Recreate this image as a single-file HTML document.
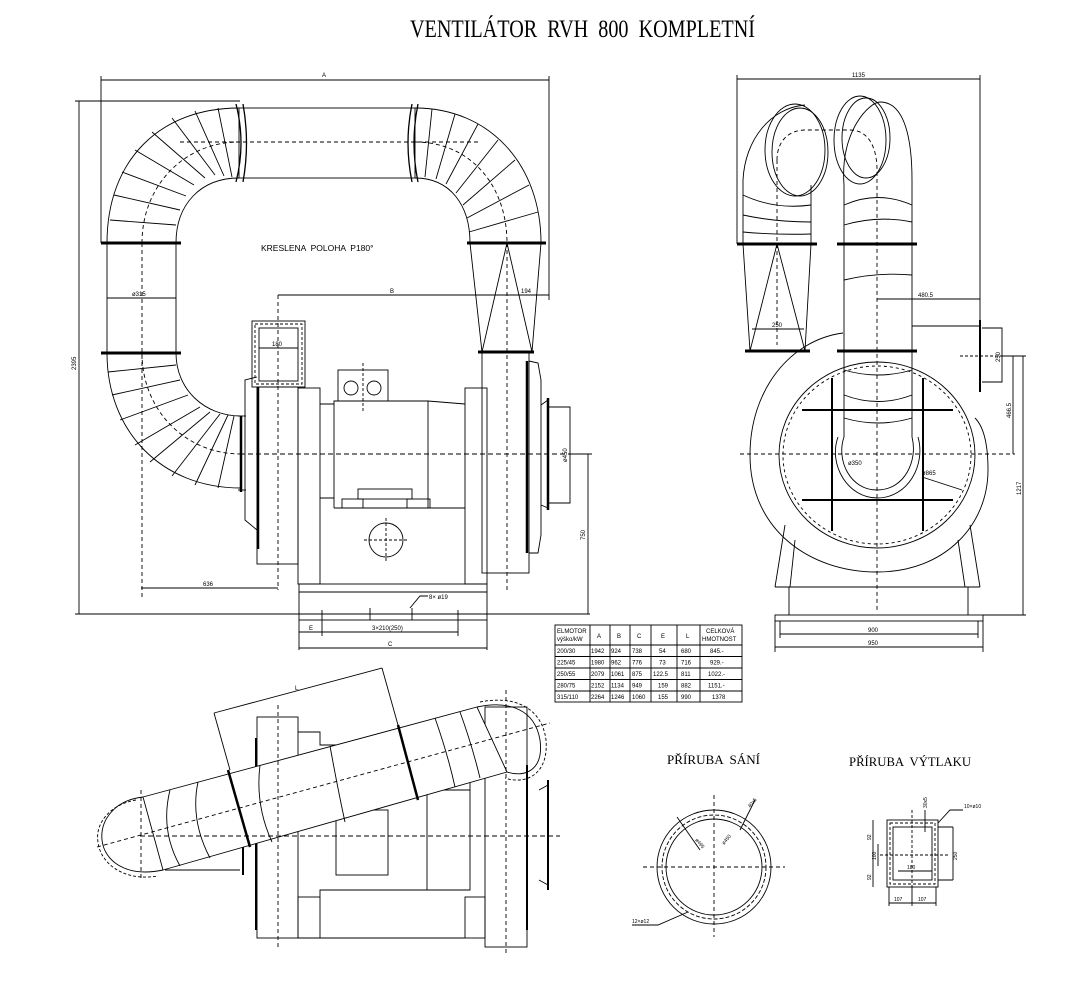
<!DOCTYPE html>
<html><head><meta charset="utf-8"><style>
html,body{margin:0;padding:0;background:#fff}
svg{display:block}
text{font-family:"Liberation Sans",sans-serif;fill:#000}
.pre{white-space:pre}
</style></head><body>
<svg width="1075" height="1008" viewBox="0 0 1075 1008" xmlns="http://www.w3.org/2000/svg">
<g fill="none" stroke="#000" stroke-width="0.9">
<!-- TITLE -->
<text class="pre" x="410" y="37" font-size="25" textLength="345" lengthAdjust="spacingAndGlyphs" stroke="none" style="font-family:'Liberation Serif',serif">VENTILÁTOR  RVH  800  KOMPLETNÍ</text>

<!-- ===== FRONT VIEW ===== -->
<line x1="101" y1="80" x2="549" y2="80"/>
<line x1="101" y1="76" x2="101" y2="243"/><line x1="549" y1="76" x2="549" y2="300"/>
<text x="322" y="77" font-size="6" stroke="none">A</text>
<line x1="79" y1="101" x2="79" y2="614"/>
<line x1="75" y1="101" x2="240" y2="101"/>
<line x1="75" y1="614" x2="590" y2="614"/>
<text x="76" y="370" font-size="6" stroke="none" transform="rotate(-90 76 370)">2395</text>
<rect x="239" y="108" width="176" height="70"/>
<path d="M236 104 Q246 143 236 182 M243 104 Q250 143 243 182 M412 104 Q404 143 412 182 M418 104 Q410 143 418 182" stroke-width="1.3"/>
<line x1="180" y1="142" x2="480" y2="142" stroke-dasharray="4 3"/>
<path d="M107 243 C107 160 160 108 239 108"/>
<path d="M176 243 C176 205 200 178 239 178"/>
<path d="M142 243 C142 185 185 142 239 142" stroke-dasharray="4 3"/>
<path d="M110 220 L176 225 M114 195 L180 210 M122 172 L186 196 M135 150 L194 185 M152 132 L205 178 M172 118 L215 175 M195 111 L224 176 M218 108 L232 177"/>
<line x1="107" y1="243" x2="107" y2="353"/><line x1="176" y1="243" x2="176" y2="353"/>
<line x1="142" y1="243" x2="142" y2="600" stroke-dasharray="4 3"/>
<line x1="101" y1="243" x2="181" y2="243" stroke-width="3"/>
<line x1="101" y1="353" x2="181" y2="353" stroke-width="3"/>
<line x1="107" y1="298" x2="176" y2="298"/>
<text x="132" y="296" font-size="6" stroke="none">ø315</text>
<path d="M107 353 C107 430 160 488 241 488"/>
<path d="M176 353 C176 390 205 416 241 416"/>
<path d="M142 353 C142 410 185 454 241 454" stroke-dasharray="4 3"/>
<path d="M108 372 L176 365 M112 395 L180 380 M120 420 L188 395 M135 445 L200 407 M150 462 L210 412 M172 476 L220 414 M195 485 L228 415 M218 488 L234 416"/>
<line x1="241" y1="416" x2="241" y2="492" stroke-width="2.5"/>
<line x1="238" y1="416" x2="246" y2="416"/><line x1="238" y1="490" x2="246" y2="490"/>
<path d="M257 377 L245 380 L245 520 L257 530"/>
<rect x="257" y="387" width="41" height="177"/>
<line x1="258" y1="387" x2="258" y2="549" stroke-width="2.5"/>
<rect x="252" y="321" width="53" height="66"/>
<rect x="259" y="328" width="39" height="53"/>
<rect x="255" y="324" width="47" height="60" stroke-dasharray="3 2"/>
<line x1="259" y1="348" x2="298" y2="348"/>
<text x="272" y="346" font-size="6" stroke="none">180</text>
<line x1="278" y1="295" x2="278" y2="590" stroke-dasharray="4 3"/>
<rect x="298" y="388" width="22" height="196"/>
<rect x="465" y="388" width="22" height="196"/>
<path d="M320 404 L334 404 L334 401 L428 401 L465 404 M320 498 L334 498 M334 401 L334 508 M428 401 L428 508 M334 508 L465 508"/>
<rect x="338" y="370" width="50" height="31"/>
<circle cx="351" cy="388" r="7"/><circle cx="374" cy="388" r="7"/>
<line x1="363" y1="363" x2="363" y2="412" stroke-dasharray="3 2"/>
<rect x="358" y="489" width="54" height="10"/>
<rect x="342" y="499" width="21" height="9"/><rect x="407" y="499" width="23" height="9"/>
<circle cx="386" cy="540" r="17"/>
<line x1="364" y1="540" x2="408" y2="540" stroke-dasharray="3 2"/><line x1="386" y1="518" x2="386" y2="562" stroke-dasharray="3 2"/>
<rect x="299" y="584" width="188" height="36"/>
<line x1="299" y1="592" x2="487" y2="592"/><line x1="299" y1="614" x2="487" y2="614"/>
<path d="M410 608 L420 596 L428 596"/>
<text x="429" y="599" font-size="6" stroke="none">8× ø19</text>
<line x1="240" y1="454" x2="575" y2="454" stroke-dasharray="5 3"/>
<path d="M415 108 C490 108 541 165 541 243"/>
<path d="M415 178 C450 178 470 205 470 243"/>
<path d="M415 142 C470 142 507 185 507 243" stroke-dasharray="4 3"/>
<path d="M432 109 L425 177 M455 114 L436 179 M478 124 L446 184 M498 140 L456 193 M515 160 L463 205 M529 185 L467 218 M538 212 L469 232"/>
<line x1="467" y1="243" x2="546" y2="243" stroke-width="3"/>
<path d="M470 243 L482 352 M541 243 L532 352 M507 243 L482 352 M507 243 L532 352"/>
<line x1="507" y1="243" x2="507" y2="590" stroke-dasharray="4 3"/>
<line x1="478" y1="352" x2="534" y2="352" stroke-width="3"/>
<rect x="482" y="352" width="47" height="221"/>
<line x1="527" y1="361" x2="527" y2="553" stroke-width="2.5"/>
<path d="M529 361 L538 363 L541 380 L541 535 L538 553 L529 553"/>
<line x1="548" y1="398" x2="548" y2="510" stroke-width="2.5"/>
<path d="M541 405 L548 400 M541 505 L548 508"/>
<path d="M548 407 L570 407 L570 503 L548 503"/>
<text x="567" y="462" font-size="6" stroke="none" transform="rotate(-90 567 462)">ø450</text>
<line x1="278" y1="295" x2="549" y2="295"/>
<text x="390" y="293" font-size="6" stroke="none">B</text>
<text x="521" y="293" font-size="6" stroke="none">194</text>
<line x1="141" y1="588" x2="278" y2="588"/>
<text x="203" y="586" font-size="6" stroke="none">636</text>
<line x1="588" y1="454" x2="588" y2="614"/><line x1="570" y1="454" x2="592" y2="454"/>
<text x="585" y="540" font-size="6" stroke="none" transform="rotate(-90 585 540)">750</text>
<path d="M299 620 L299 650 M487 620 L487 650 M322 610 L322 636 M458 610 L458 636 M370 608 L370 620 M412 608 L412 620"/>
<line x1="299" y1="632" x2="322" y2="632"/><line x1="322" y1="632" x2="458" y2="632"/>
<text x="309" y="630" font-size="6" stroke="none">E</text>
<text x="372" y="630" font-size="6" stroke="none">3×210(250)</text>
<line x1="299" y1="648" x2="487" y2="648"/>
<text x="388" y="646" font-size="6" stroke="none">C</text>
<text class="pre" x="261" y="251" font-size="8.5" stroke="none">KRESLENA  POLOHA  P180°</text>

<!-- ===== SIDE VIEW ===== -->
<line x1="737" y1="79" x2="980" y2="79"/>
<line x1="737" y1="75" x2="737" y2="244"/><line x1="980" y1="75" x2="980" y2="330"/>
<text x="852" y="77" font-size="6" stroke="none">1135</text>
<line x1="743" y1="180" x2="743" y2="244"/><line x1="811" y1="185" x2="811" y2="244"/>
<path d="M743 180 C745 140 770 108 805 105"/>
<ellipse cx="795" cy="150" rx="30" ry="46"/>
<ellipse cx="800" cy="152" rx="28" ry="44"/>
<path d="M743 195 Q775 210 811 205 M743 215 Q775 222 811 222 M743 232 Q775 235 811 234"/>
<line x1="777" y1="160" x2="777" y2="345" stroke-dasharray="4 3"/>
<path d="M777 160 C777 140 790 130 805 130 L850 130" stroke-dasharray="4 3"/>
<path d="M844 185 C840 130 870 102 880 102 C905 102 912 140 912 180"/>
<ellipse cx="860" cy="140" rx="26" ry="44"/>
<ellipse cx="866" cy="138" rx="24" ry="40"/>
<line x1="912" y1="180" x2="912" y2="437"/><line x1="844" y1="185" x2="844" y2="437"/>
<path d="M844 205 Q878 190 912 205 M844 225 Q878 215 912 222 M844 280 Q878 272 912 275 M844 370 Q878 380 912 370 M844 395 Q878 408 912 395 M844 418 Q878 428 912 418"/>
<path d="M850 130 C870 130 877 150 877 170 L877 610" stroke-dasharray="4 3"/>
<line x1="737" y1="244" x2="817" y2="244" stroke-width="3"/>
<line x1="837" y1="244" x2="917" y2="244" stroke-width="3"/>
<line x1="837" y1="351" x2="917" y2="351" stroke-width="3"/>
<path d="M743 244 L750 351 M811 244 L805 351 M777 244 L750 351 M777 244 L805 351"/>
<line x1="745" y1="351" x2="810" y2="351" stroke-width="3"/>
<line x1="752" y1="329" x2="804" y2="329"/>
<text x="772" y="327" font-size="6" stroke="none">250</text>
<path d="M843 333 C790 340 750 390 750 455 C750 530 810 572 877 572 C945 572 988 525 988 470 C988 440 982 425 975 418"/>
<ellipse cx="877" cy="455" rx="98" ry="93"/>
<ellipse cx="877" cy="455" rx="94" ry="89" stroke-dasharray="3 3"/>
<line x1="832" y1="378" x2="832" y2="531" stroke-width="2"/>
<line x1="923" y1="378" x2="923" y2="531" stroke-width="2"/>
<line x1="802" y1="410" x2="953" y2="410" stroke-width="2"/>
<line x1="802" y1="500" x2="953" y2="500" stroke-width="2"/>
<path d="M844 437 C836 460 850 490 877 490 C905 490 918 460 912 437"/>
<path d="M838 437 C828 465 848 498 877 498 C908 498 926 465 918 437"/>
<text x="848" y="465" font-size="6" stroke="none">ø350</text>
<text x="922" y="475" font-size="6" stroke="none">ø865</text>
<line x1="922" y1="477" x2="962" y2="490"/>
<line x1="740" y1="454" x2="1015" y2="454" stroke-dasharray="4 3"/>
<path d="M785 525 L775 587 M795 540 L790 587 M970 525 L980 587 M958 540 L965 587"/>
<line x1="775" y1="587" x2="980" y2="587"/>
<path d="M789 587 L789 615 M968 587 L968 615"/>
<rect x="775" y="615" width="208" height="6"/>
<path d="M912 326 L980 326 M980 326 L980 386"/>
<line x1="980" y1="320" x2="980" y2="392" stroke-width="2"/>
<line x1="960" y1="356" x2="1000" y2="356" stroke-dasharray="3 2"/>
<path d="M982 328 L1002 328 L1002 382 L982 382"/>
<text x="1000" y="362" font-size="6" stroke="none" transform="rotate(-90 1000 362)">250</text>
<line x1="877" y1="299" x2="980" y2="299"/>
<text x="918" y="297" font-size="6" stroke="none">480.5</text>
<path d="M1000 356 L1026 356 M1013 356 L1013 454 M1023 356 L1023 615 M983 615 L1026 615"/>
<text x="1011" y="418" font-size="6" stroke="none" transform="rotate(-90 1011 418)">466.5</text>
<text x="1021" y="495" font-size="6" stroke="none" transform="rotate(-90 1021 495)">1217</text>
<path d="M780 621 L780 638 M978 621 L978 638 M775 621 L775 652 M983 621 L983 652"/>
<line x1="780" y1="634" x2="978" y2="634"/>
<text x="868" y="632" font-size="6" stroke="none">900</text>
<line x1="775" y1="647" x2="983" y2="647"/>
<text x="868" y="645" font-size="6" stroke="none">950</text>

<!-- ===== TABLE ===== -->
<rect x="555" y="625" width="187" height="77"/>
<path d="M555 645 L742 645 M555 656.5 L742 656.5 M555 668 L742 668 M555 679.5 L742 679.5 M555 691 L742 691"/>
<path d="M590 625 L590 702 M610 625 L610 702 M630 625 L630 702 M651 625 L651 702 M677 625 L677 702 M700 625 L700 702"/>
</g>
<g font-size="6" font-family="Liberation Sans">
<text x="557" y="633">ELMOTOR</text><text x="557" y="641">výško/kW</text>
<text x="597" y="638">A</text><text x="617" y="638">B</text><text x="637" y="638">C</text><text x="661" y="638">E</text><text x="686" y="638">L</text>
<text x="706" y="633">CELKOVÁ</text><text x="702" y="641">HMOTNOST</text>
<text x="557" y="653">200/30</text><text x="591" y="653">1942</text><text x="611" y="653">924</text><text x="632" y="653">738</text><text x="659" y="653">54</text><text x="681" y="653">680</text><text x="710" y="653">845.-</text>
<text x="557" y="664.5">225/45</text><text x="591" y="664.5">1980</text><text x="611" y="664.5">962</text><text x="632" y="664.5">776</text><text x="659" y="664.5">73</text><text x="681" y="664.5">716</text><text x="710" y="664.5">929.-</text>
<text x="557" y="676">250/55</text><text x="591" y="676">2079</text><text x="611" y="676">1061</text><text x="632" y="676">875</text><text x="653" y="676">122.5</text><text x="681" y="676">811</text><text x="708" y="676">1022.-</text>
<text x="557" y="687.5">280/75</text><text x="591" y="687.5">2152</text><text x="611" y="687.5">1134</text><text x="632" y="687.5">949</text><text x="658" y="687.5">159</text><text x="681" y="687.5">882</text><text x="708" y="687.5">1151.-</text>
<text x="557" y="699">315/110</text><text x="591" y="699">2264</text><text x="611" y="699">1246</text><text x="632" y="699">1060</text><text x="658" y="699">155</text><text x="681" y="699">990</text><text x="712" y="699">1378</text>
</g>
<g fill="none" stroke="#000" stroke-width="0.9">
<!-- ===== TOP VIEW ===== -->
<rect x="257" y="717" width="41" height="221"/>
<rect x="485" y="707" width="42" height="240"/>
<path d="M298 732 L320 732 L320 745 L470 745 L470 890 L320 890 L320 897"/>
<rect x="298" y="897" width="22" height="41"/><rect x="465" y="897" width="20" height="41"/>
<line x1="298" y1="938" x2="465" y2="938"/>
<rect x="336" y="810" width="52" height="65"/>
<path d="M425 790 L470 790 M427 790 L427 890"/>
<line x1="256" y1="738" x2="256" y2="930" stroke-width="2"/>
<line x1="243" y1="840" x2="243" y2="875" stroke-width="2"/>
<line x1="527" y1="765" x2="527" y2="930" stroke-width="2"/>
<line x1="548" y1="780" x2="548" y2="890" stroke-width="2"/>
<path d="M539 790 L548 785 M539 880 L548 885"/>
<polygon points="143,797 477,707 507,772 163,870" fill="#fff"/>
<path d="M228 770 L250 847 M398 725 L418 800" stroke-width="2.5"/>
<path d="M170 790 Q160 830 180 866 M198 782 Q190 820 210 858 M260 765 Q255 805 272 842 M330 746 Q338 790 345 822 M435 718 Q448 755 455 787 M460 712 Q472 745 480 778"/>
<path d="M143 797 C115 800 100 820 102 840 C104 860 125 878 163 870"/>
<path d="M136 800 C108 805 95 825 98 842 C100 862 122 882 158 876" stroke-dasharray="3 2"/>
<path d="M477 707 C510 700 535 710 540 740 C544 770 525 778 507 772"/>
<path d="M480 702 C515 695 542 708 546 740 C549 775 525 785 505 778" stroke-dasharray="3 2"/>
<line x1="97" y1="847" x2="550" y2="723" stroke-dasharray="4 3"/>
<line x1="140" y1="836" x2="560" y2="836" stroke-dasharray="5 3"/>
<path d="M165 870 L240 870"/>
<line x1="278" y1="705" x2="278" y2="950" stroke-dasharray="4 3"/>
<line x1="506" y1="690" x2="506" y2="955" stroke-dasharray="4 3"/>
<line x1="141" y1="790" x2="141" y2="880" stroke-dasharray="4 3"/>
<path d="M214 713 L382 668 M214 713 L230 770 M382 668 L398 725"/>
<text x="295" y="690" font-size="6" stroke="none">L</text>

<!-- ===== FLANGES ===== -->
<text class="pre" x="667" y="764" font-size="13" stroke="none" style="font-family:'Liberation Serif',serif" textLength="93" lengthAdjust="spacingAndGlyphs">PŘÍRUBA  SÁNÍ</text>
<text class="pre" x="849" y="766" font-size="13" stroke="none" style="font-family:'Liberation Serif',serif" textLength="122" lengthAdjust="spacingAndGlyphs">PŘÍRUBA  VÝTLAKU</text>
<circle cx="714" cy="867" r="57"/>
<circle cx="714" cy="867" r="52" stroke-dasharray="4 2"/>
<circle cx="714" cy="867" r="48"/>
<line x1="643" y1="867" x2="785" y2="867" stroke-dasharray="4 3"/>
<line x1="714" y1="795" x2="714" y2="937" stroke-dasharray="4 3"/>
<path d="M677 817 L700 850 M755 800 L740 830 M688 912 L658 925 L632 925"/>
<text x="695" y="840" font-size="5" stroke="none" transform="rotate(50 695 840)">ø495</text>
<text x="724" y="845" font-size="5" stroke="none" transform="rotate(-50 724 845)">ø450</text>
<text x="750" y="808" font-size="5" stroke="none" transform="rotate(-50 750 808)">40x5</text>
<text x="632" y="923" font-size="5" stroke="none">12×ø12</text>
<rect x="887" y="820" width="51" height="67"/>
<rect x="893" y="827" width="39" height="53"/>
<rect x="890" y="823" width="45" height="61" stroke-dasharray="3 2"/>
<line x1="880" y1="855" x2="950" y2="855" stroke-dasharray="3 2"/>
<line x1="912" y1="810" x2="912" y2="890" stroke-dasharray="3 2"/>
<line x1="898" y1="871" x2="932" y2="871"/>
<text x="907" y="869" font-size="5" stroke="none">180</text>
<path d="M873 820 L873 887 M878 844 L878 866 M938 827 L953 827 M953 827 L953 880 M938 880 L953 880"/>
<text x="957" y="860" font-size="5" stroke="none" transform="rotate(-90 957 860)">250</text>
<text x="871" y="840" font-size="5" stroke="none" transform="rotate(-90 871 840)">92</text>
<text x="876" y="860" font-size="5" stroke="none" transform="rotate(-90 876 860)">100</text>
<text x="871" y="880" font-size="5" stroke="none" transform="rotate(-90 871 880)">92</text>
<path d="M889 887 L889 906 M912 887 L912 906 M936 887 L936 906 M889 903 L936 903"/>
<text x="894" y="901" font-size="5" stroke="none">107</text><text x="918" y="901" font-size="5" stroke="none">107</text>
<path d="M925 810 L925 832 M938 823 L950 810 L963 810"/>
<text x="927" y="808" font-size="5" stroke="none" transform="rotate(-90 927 808)">30x5</text>
<text x="964" y="808" font-size="5" stroke="none">10×ø10</text>
</g>
</svg>
</body></html>
